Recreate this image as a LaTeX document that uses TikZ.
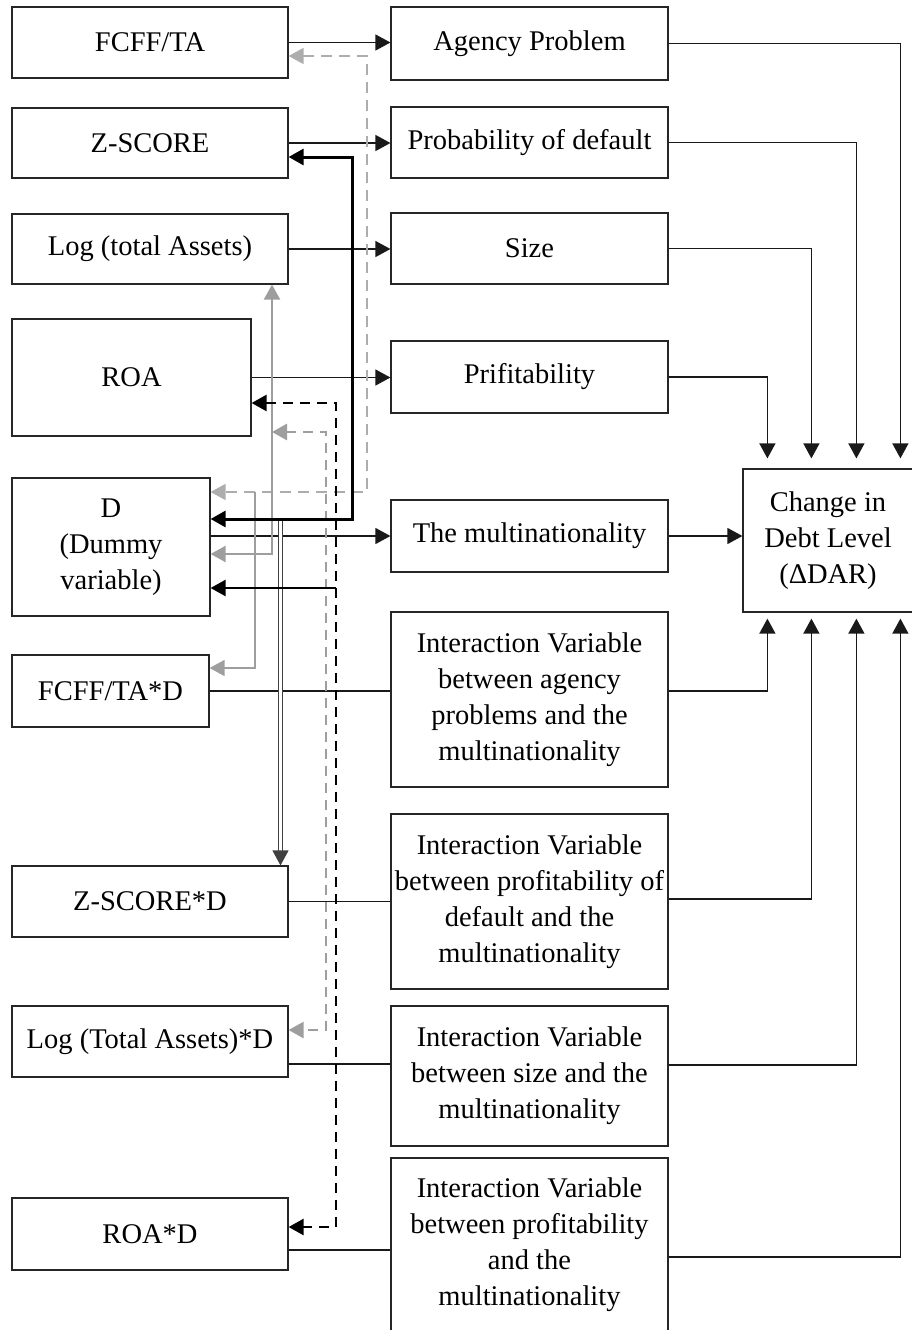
\documentclass[tikz,border=0pt]{standalone}
\usepackage{fontspec}
\setmainfont{Liberation Serif}
\usetikzlibrary{arrows.meta,calc}

\begin{document}
\begin{tikzpicture}[x=1pt,y=1pt,yscale=-1,xscale=1,
  box/.style={draw=black!85,line width=1.2pt,align=center,inner sep=2pt,
    font=\fontsize{28.5}{36}\selectfont},
  lnk/.style={draw=black!90,line width=1.3pt},
  arr/.style={-{Triangle[length=15pt,width=16pt]}},
  arrs/.style={{Triangle[length=15pt,width=16pt]}-{Triangle[length=15pt,width=16pt]}},
  thk/.style={draw=black,line width=3pt},
  gryln/.style={draw=black!38,line width=2.2pt},
  grythin/.style={draw=black!38,line width=1.4pt},
  gdash/.style={draw=black!32,line width=1.6pt,dash pattern=on 11pt off 7pt},
  gdash2/.style={draw=black!38,line width=2.6pt,dash pattern=on 10pt off 7pt},
  bdash/.style={draw=black,line width=2.6pt,dash pattern=on 10pt off 7pt},
  dbl/.style={draw=black!75,line width=1.4pt,double=white,double distance=3pt},
]
\useasboundingbox (0,0) rectangle (912,1330);

% left column
\node[box,minimum width=276pt,minimum height=71pt] (fcff) at (150,42.5) {FCFF/TA};
\node[box,minimum width=276pt,minimum height=70pt] (zs) at (150,143) {Z-SCORE};
\node[box,minimum width=276pt,minimum height=70pt] (lta) at (150,249) {Log (total Assets)};
\node[box,minimum width=239pt,minimum height=117pt] (roa) at (131.5,377.5) {ROA};
\node[box,minimum width=198pt,minimum height=138pt] (dum) at (111,547) {D\\(Dummy\\variable)};
\node[box,minimum width=197pt,minimum height=72pt] (fcffd) at (110.5,691) {FCFF/TA*D};
\node[box,minimum width=276pt,minimum height=71pt] (zsd) at (150,901.5) {Z-SCORE*D};
\node[box,minimum width=276pt,minimum height=71pt] (ltad) at (150,1041.5) {Log (Total Assets)*D};
\node[box,minimum width=276pt,minimum height=72pt] (road) at (150,1234) {ROA*D};

% middle column
\node[box,minimum width=277pt,minimum height=73pt] (agency) at (529.5,43.5) {Agency Problem};
\node[box,minimum width=277pt,minimum height=71pt] (pdef) at (529.5,142.5) {Probability of default};
\node[box,minimum width=277pt,minimum height=71pt] (size) at (529.5,248.5) {Size};
\node[box,minimum width=277pt,minimum height=72pt] (prof) at (529.5,377) {Prifitability};
\node[box,minimum width=277pt,minimum height=72pt] (multi) at (529.5,536) {The multinationality};
\node[box,minimum width=277pt,minimum height=175pt] (int1) at (529.5,699.5) {Interaction Variable\\between agency\\problems and the\\multinationality};
\node[box,minimum width=277pt,minimum height=175pt] (int2) at (529.5,901.5) {Interaction Variable\\between profitability of\\default and the\\multinationality};
\node[box,minimum width=277pt,minimum height=140pt] (int3) at (529.5,1076) {Interaction Variable\\between size and the\\multinationality};
\node[box,minimum width=277pt,minimum height=174pt] (int4) at (529.5,1245) {Interaction Variable\\between profitability\\and the\\multinationality};

% right
\node[box,minimum width=170pt,minimum height=143pt] (dar) at (828,540.5) {Change in\\Debt Level\\(ΔDAR)};

%Straight Lines left to middle
\draw[lnk,arr] (fcff.east) -- (fcff.east -| agency.west);
\draw[lnk,arr] (zs.east) -- (zs.east -| pdef.west);
\draw[lnk,arr] (lta.east) -- (lta.east -| size.west);
\draw[lnk,arr] (roa.east) -- (roa.east -| prof.west);
\draw[lnk,arr] (dum.east |- multi.west) -- (multi.west);
\draw[lnk] (fcffd.east) -- (fcffd.east -| int1.west);
\draw[lnk] (zsd.east) -- (zsd.east -| int2.west);
\draw[lnk] ($(ltad.east)+(0,22.5)$) -- ($(ltad.east -| int3.west)+(0,22.5)$);
\draw[lnk] ($(road.east)+(0,16)$) -- ($(road.east -| int4.west)+(0,16)$);

%Straight Lines middle to right
\draw[lnk,arr] (agency.east) -| ($(dar.north west)+(158,-10)$);
\draw[lnk,arr] (pdef.east) -| ($(dar.north west)+(114,-10)$);
\draw[lnk,arr] (size.east) -| ($(dar.north west)+(69,-10)$);
\draw[lnk,arr] (prof.east) -| ($(dar.north west)+(25,-10)$);
\draw[lnk,arr] (multi.east) -- (multi.east -| dar.west);
\draw[lnk,arr] ($(int1.east)+(0,-8.5)$) -| ($(dar.south west)+(25,6)$);
\draw[lnk,arr] ($(int2.east)+(0,-2.5)$) -| ($(dar.south west)+(69,6)$);
\draw[lnk,arr] ($(int3.east)+(0,-11)$) -| ($(dar.south west)+(114,6)$);
\draw[lnk,arr] ($(int4.east)+(0,12)$) -| ($(dar.south west)+(158,6)$);

%Feedback lines
\coordinate (a1) at (367,56);
\coordinate (a2) at (367,492);
\draw[gdash,arrs] (a1 -| fcff.east) -- (a1) -- (a2) -- (a2 -| dum.east);
\coordinate (c1) at (272,554);
\draw[gryln,arrs] (c1 |- lta.south) -- (c1) -- (c1 -| dum.east);
\coordinate (e1) at (255,492);
\coordinate (e2) at (255,668);
\draw[grythin,arr] (e1) -- (e2) -- (e2 -| fcffd.east);
\coordinate (g1) at (326,432);
\coordinate (g2) at (326,1030);
\draw[gdash2,arrs] (g1 -| c1) -- (g1) -- (g2) -- (g2 -| ltad.east);
\coordinate (f1) at (280.5,519);
\draw[dbl,arr] (f1) -- (f1 |- zsd.north);
\coordinate (b1) at (352,157);
\coordinate (b2) at (352,519);
\draw[thk,arrs] (b1 -| zs.east) -- (b1) -- (b2) -- (b2 -| dum.east);
\coordinate (d1) at (336,403);
\coordinate (d2) at (336,1227);
\draw[bdash,arrs] (d1 -| roa.east) -- (d1) -- (d2) -- (d2 -| road.east);
\coordinate (h1) at (336,588);
\draw[thk,line width=2.4pt,arr] (h1) -- (h1 -| dum.east);

\end{tikzpicture}
\end{document}
